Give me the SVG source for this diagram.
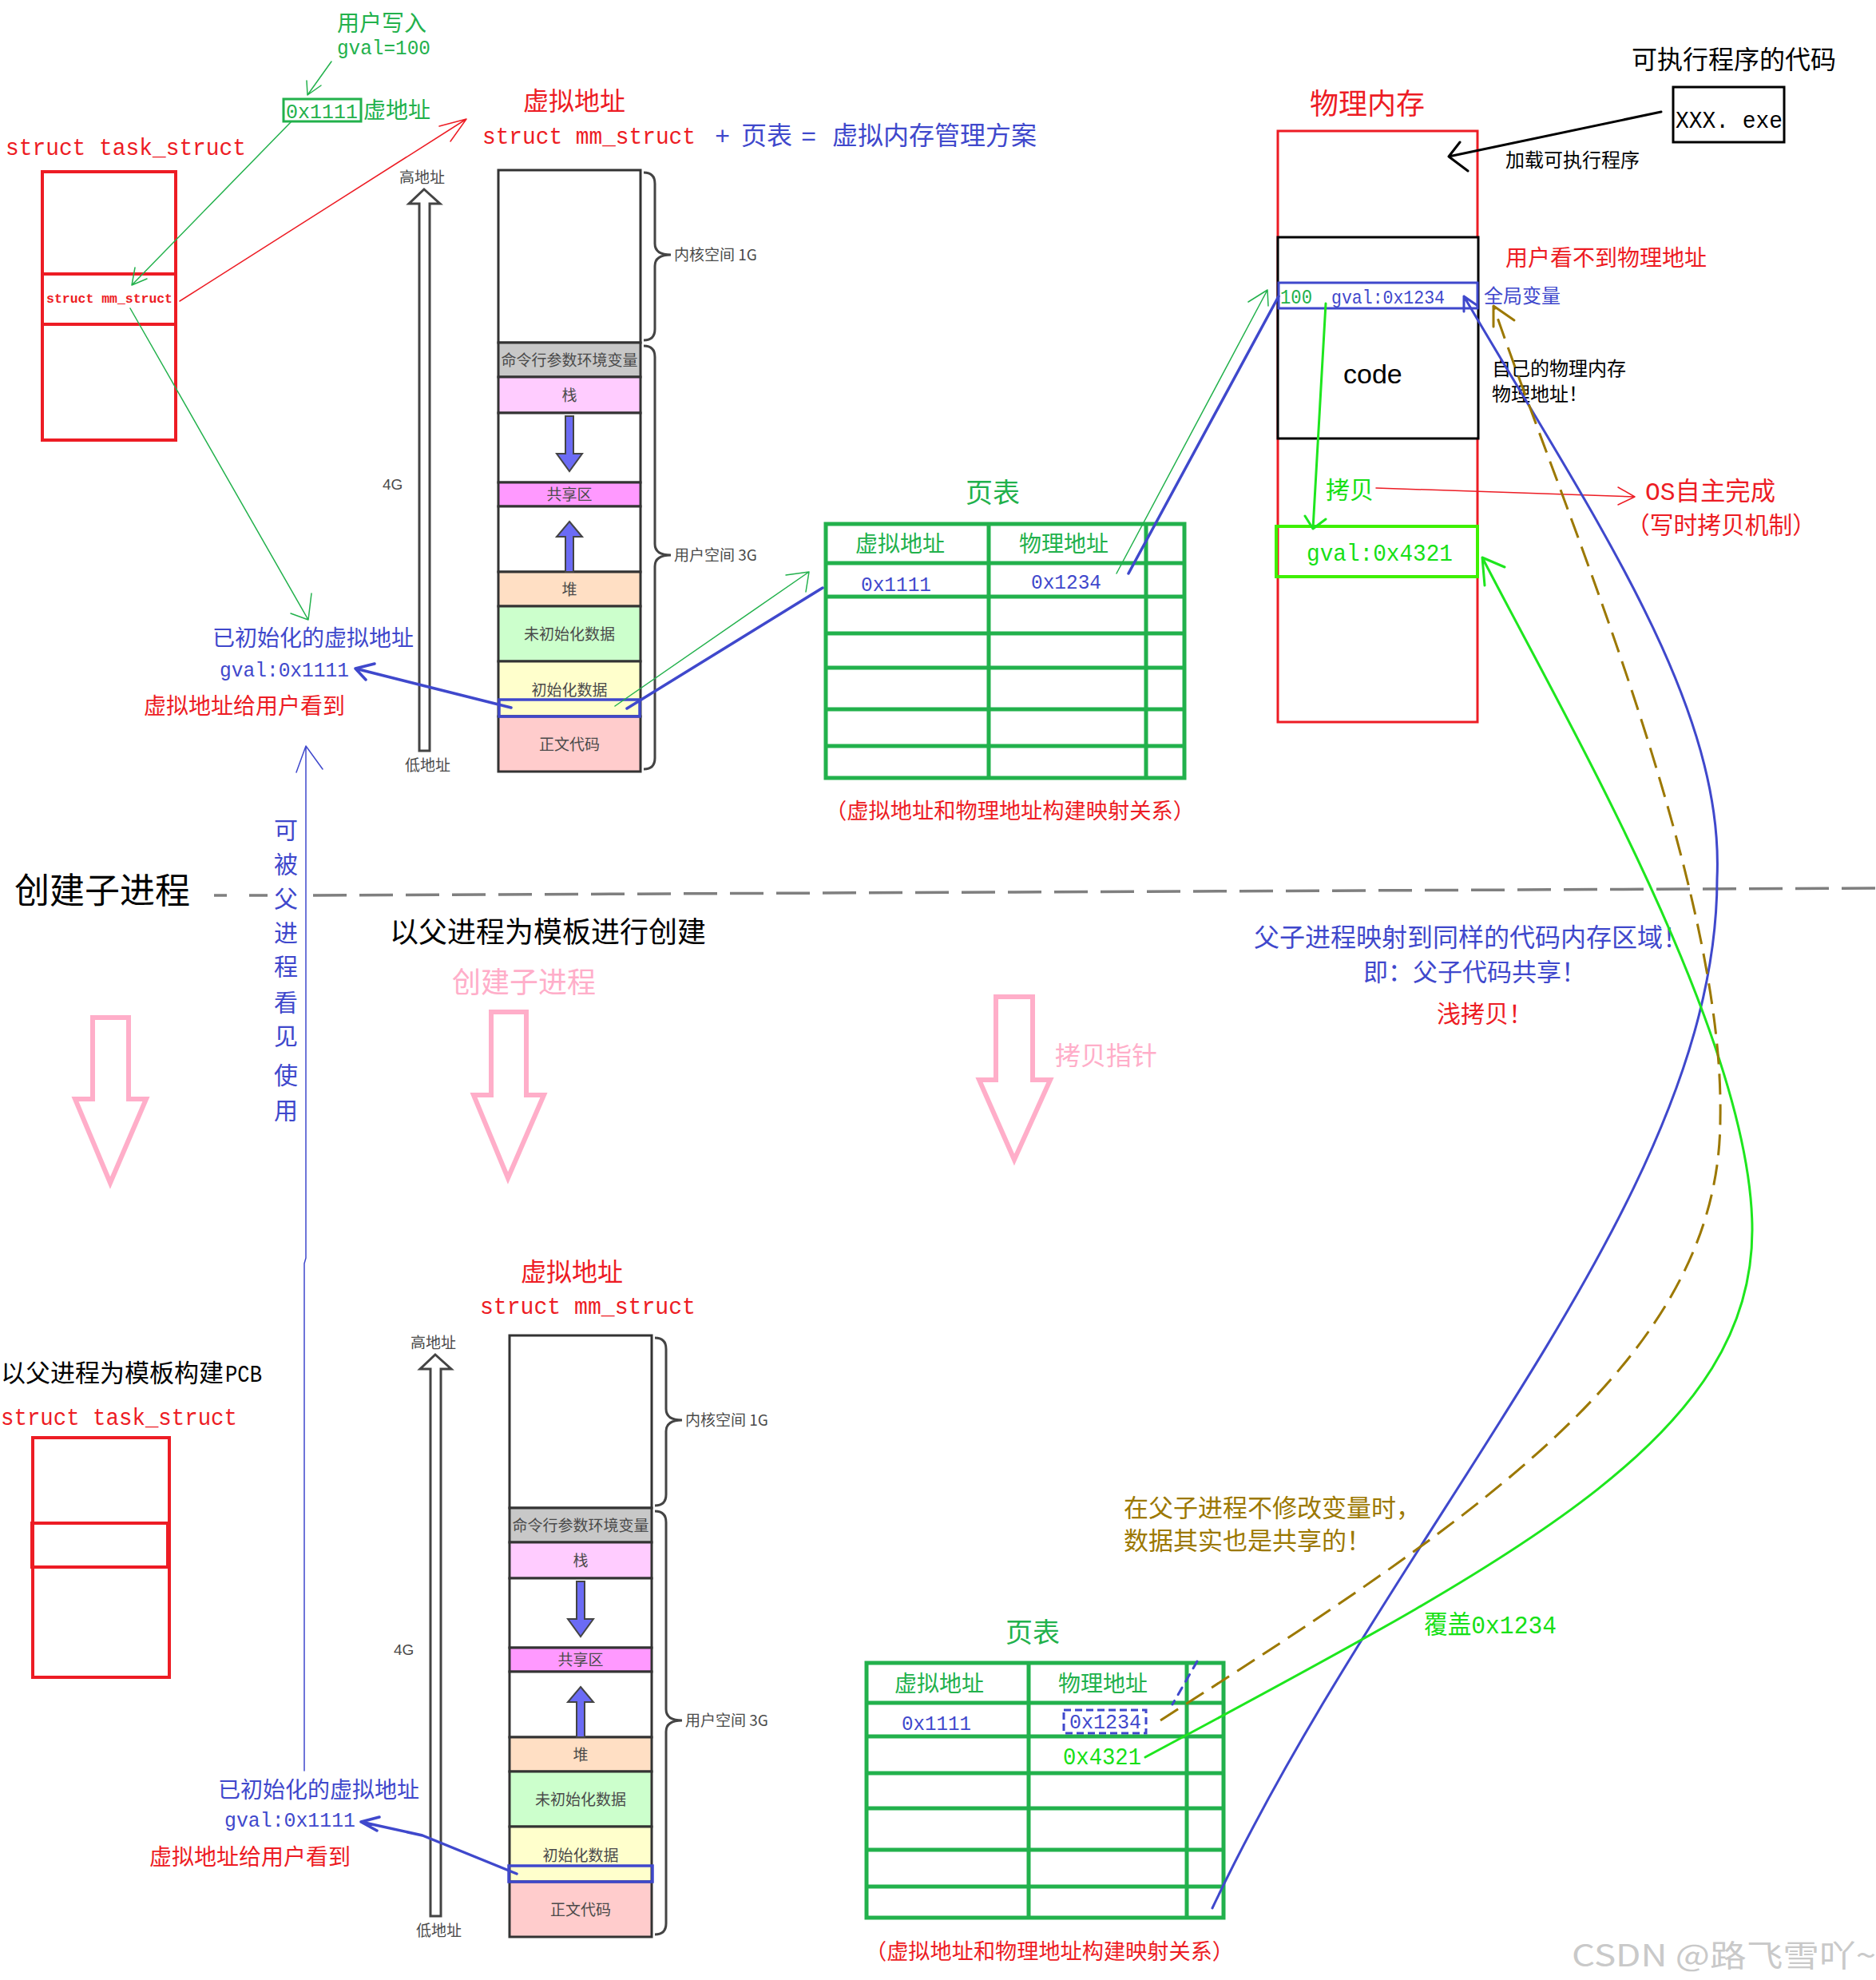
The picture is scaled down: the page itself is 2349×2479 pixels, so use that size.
<svg xmlns="http://www.w3.org/2000/svg" width="2349" height="2479" viewBox="0 0 2349 2479">
<style>
text { font-family: "Noto Sans CJK SC", sans-serif; }
.mono { font-family: "Liberation Mono", "Noto Sans CJK SC", monospace; }
.sans { font-family: "Liberation Sans", "Noto Sans CJK SC", sans-serif; }
.red { fill: #ed1c24; }
.grn { fill: #22b14c; }
.blu { fill: #3f48cc; }
.lime { fill: #16e016; }
.brn { fill: #9c7800; }
.pink { fill: #ffaec9; }
.blk { fill: #000; }
.vml { font-size: 19px; fill: #4a4a4a; }
.sec { stroke: #333; stroke-width: 3; }
.brace { fill: none; stroke: #444; stroke-width: 3; }
.tbl { fill: none; stroke: #22b14c; stroke-width: 5; }
.ln { fill: none; stroke-linecap: round; stroke-linejoin: round; }
.g1 { stroke: #22b14c; stroke-width: 1.5; }
.r1 { stroke: #ed1c24; stroke-width: 1.5; }
.b3 { stroke: #3f48cc; stroke-width: 3.5; }
.b1 { stroke: #3f48cc; stroke-width: 1.5; }
.lm3 { stroke: #1ee61e; stroke-width: 3; }
.br3 { stroke: #9c7800; stroke-width: 3; stroke-dasharray: 26 12; stroke-linecap: butt; }
.k3 { stroke: #000; stroke-width: 3; }
.pk { fill: none; stroke: #ffaec9; stroke-width: 6; stroke-linejoin: miter; }
.varrow { fill: #6b6bf5; stroke: #444; stroke-width: 2; }
</style>

<!-- parent task_struct -->
<g id="task-parent">
  <text x="7" y="194" class="mono red" font-size="30" textLength="301" lengthAdjust="spacingAndGlyphs">struct task_struct</text>
  <rect x="53" y="215" width="167" height="336" fill="none" stroke="#ed1c24" stroke-width="4"/>
  <line x1="53" y1="343" x2="220" y2="343" stroke="#ed1c24" stroke-width="4"/>
  <line x1="53" y1="406" x2="220" y2="406" stroke="#ed1c24" stroke-width="4"/>
  <text x="58" y="379" class="mono red" font-size="16" font-weight="bold" textLength="158" lengthAdjust="spacingAndGlyphs">struct mm_struct</text>
</g>

<!-- user write label -->
<g id="user-write">
  <text x="422" y="39" class="grn" font-size="28">用户写入</text>
  <text x="422" y="68" class="mono grn" font-size="26" textLength="117" lengthAdjust="spacingAndGlyphs">gval=100</text>
  <rect x="355" y="124" width="97" height="28" fill="none" stroke="#22b14c" stroke-width="3"/>
  <text x="358" y="148" class="mono grn" font-size="26" textLength="90" lengthAdjust="spacingAndGlyphs">0x1111</text>
  <text x="455" y="148" class="grn" font-size="28">虚地址</text>
</g>

<!-- titles -->
<g id="vm-title-parent">
  <text x="655" y="138" class="red" font-size="32">虚拟地址</text>
  <text x="604" y="180" class="mono red" font-size="29" textLength="267" lengthAdjust="spacingAndGlyphs">struct mm_struct</text>
  <text x="895" y="181" class="mono blu" font-size="32">+</text>
  <text x="928" y="181" class="blu" font-size="32">页表</text>
  <text x="1003" y="181" class="mono blu" font-size="32">=</text>
  <text x="1042" y="181" class="blu" font-size="32">虚拟内存管理方案</text>
</g>

<!-- parent virtual memory layout -->
<g id="vm-parent">
  <text x="500" y="229" class="vml">高地址</text>
  <polygon points="531,237 551,255 538,255 538,940 525,940 525,255 512,255" fill="#fff" stroke="#444" stroke-width="3"/>
  <text x="507" y="965" class="vml">低地址</text>
  <text x="479" y="613" class="vml sans" font-size="20">4G</text>
  <rect x="624" y="213" width="178" height="216" fill="#fff" class="sec"/>
  <rect x="624" y="429" width="178" height="43" fill="#c8c8c8" class="sec"/>
  <rect x="624" y="472" width="178" height="45" fill="#ffccff" class="sec"/>
  <rect x="624" y="517" width="178" height="87" fill="#fff" class="sec"/>
  <rect x="624" y="604" width="178" height="30" fill="#ff99ff" class="sec"/>
  <rect x="624" y="634" width="178" height="82" fill="#fff" class="sec"/>
  <rect x="624" y="716" width="178" height="43" fill="#ffdfc4" class="sec"/>
  <rect x="624" y="759" width="178" height="69" fill="#ccffcc" class="sec"/>
  <rect x="624" y="828" width="178" height="69" fill="#ffffcc" class="sec"/>
  <rect x="624" y="897" width="178" height="69" fill="#ffcccc" class="sec"/>
  <rect x="625" y="876" width="176" height="21" fill="none" stroke="#3f48cc" stroke-width="3.5"/>
  <text x="713" y="458" class="vml" text-anchor="middle">命令行参数环境变量</text>
  <text x="713" y="502" class="vml" text-anchor="middle">栈</text>
  <text x="713" y="626" class="vml" text-anchor="middle">共享区</text>
  <text x="713" y="745" class="vml" text-anchor="middle">堆</text>
  <text x="713" y="801" class="vml" text-anchor="middle">未初始化数据</text>
  <text x="713" y="871" class="vml" text-anchor="middle">初始化数据</text>
  <text x="713" y="939" class="vml" text-anchor="middle">正文代码</text>
  <polygon points="708,521 718,521 718,568 729,568 713,590 697,568 708,568" class="varrow"/>
  <polygon points="713,653 729,672 718,672 718,716 708,716 708,672 697,672" class="varrow"/>
  <path class="brace" d="M806,216 Q820,216 820,230 L820,305 Q820,319 840,319 Q820,319 820,333 L820,412 Q820,426 806,426"/>
  <path class="brace" d="M806,433 Q820,433 820,447 L820,681 Q820,695 840,695 Q820,695 820,709 L820,949 Q820,963 806,963"/>
  <text x="844" y="326" class="vml">内核空间 1G</text>
  <text x="844" y="702" class="vml">用户空间 3G</text>
</g>

<g id="vaddr-parent">
  <text x="266" y="809" class="blu" font-size="28">已初始化的虚拟地址</text>
  <text x="275" y="847" class="mono blu" font-size="26" textLength="162" lengthAdjust="spacingAndGlyphs">gval:0x1111</text>
  <text x="180" y="894" class="red" font-size="28">虚拟地址给用户看到</text>
</g>

<!-- page table parent -->
<g id="pagetable-parent">
  <text x="1209" y="629" class="grn" font-size="34">页表</text>
  <rect x="1034" y="656" width="449" height="318" class="tbl"/>
  <path class="tbl" d="M1238,656 V974 M1435,656 V974 M1034,705 H1483 M1034,747 H1483 M1034,793 H1483 M1034,836 H1483 M1034,888 H1483 M1034,934 H1483"/>
  <text x="1071" y="691" class="grn" font-size="28">虚拟地址</text>
  <text x="1276" y="691" class="grn" font-size="28">物理地址</text>
  <text x="1078" y="740" class="mono blu" font-size="26" textLength="88" lengthAdjust="spacingAndGlyphs">0x1111</text>
  <text x="1291" y="737" class="mono blu" font-size="26" textLength="88" lengthAdjust="spacingAndGlyphs">0x1234</text>
  <text x="1033" y="1025" class="red" font-size="27" textLength="463" lengthAdjust="spacingAndGlyphs">（虚拟地址和物理地址构建映射关系）</text>
</g>

<!-- physical memory -->
<g id="phys-mem">
  <text x="1640" y="143" class="red" font-size="36">物理内存</text>
  <rect x="1600" y="164" width="250" height="740" fill="none" stroke="#ed1c24" stroke-width="3"/>
  <rect x="1600" y="297" width="251" height="252" fill="#fff" stroke="#000" stroke-width="3"/>
  <rect x="1601" y="354" width="249" height="32" fill="none" stroke="#3f48cc" stroke-width="3"/>
  <text x="1603" y="380" class="mono grn" font-size="26" textLength="40" lengthAdjust="spacingAndGlyphs">100</text>
  <text x="1667" y="380" class="mono blu" font-size="24" textLength="142" lengthAdjust="spacingAndGlyphs">gval:0x1234</text>
  <text x="1682" y="480" class="sans blk" font-size="34">code</text>
  <rect x="1598" y="659" width="252" height="63" fill="none" stroke="#3ef000" stroke-width="4"/>
  <text x="1636" y="702" class="mono lime" font-size="30" textLength="183" lengthAdjust="spacingAndGlyphs">gval:0x4321</text>
</g>

<g id="exe">
  <text x="2043" y="86" class="blk" font-size="32">可执行程序的代码</text>
  <rect x="2095" y="109" width="139" height="69" fill="none" stroke="#000" stroke-width="3"/>
  <text x="2098" y="160" class="mono blk" font-size="30" textLength="134" lengthAdjust="spacingAndGlyphs">XXX. exe</text>
  <text x="1885" y="209" class="blk" font-size="24">加载可执行程序</text>
</g>

<g id="phys-notes">
  <text x="1885" y="333" class="red" font-size="28">用户看不到物理地址</text>
  <text x="1858" y="379" class="blu" font-size="24">全局变量</text>
  <text x="1868" y="470" class="blk" font-size="24">自己的物理内存</text>
  <text x="1868" y="502" class="blk" font-size="24">物理地址！</text>
  <text x="1660" y="624" class="lime" font-size="30">拷贝</text>
  <text x="2060" y="626" class="red" font-size="32" textLength="163" lengthAdjust="spacingAndGlyphs"><tspan class="mono">OS</tspan>自主完成</text>
  <text x="2036" y="668" class="red" font-size="30" textLength="238" lengthAdjust="spacingAndGlyphs">（写时拷贝机制）</text>
</g>

<!-- separator -->
<g id="separator">
  <text x="18" y="1131" class="blk" font-size="44">创建子进程</text>
  <path d="M268,1121 H284 M312,1121 H335" stroke="#7f7f7f" stroke-width="3.5" fill="none"/>
  <line x1="392" y1="1121" x2="2349" y2="1112" stroke="#7f7f7f" stroke-width="3.5" stroke-dasharray="42 16"/>
</g>

<g id="visible-note">
  <text x="343" y="1050" class="blu" font-size="30">可</text>
  <text x="343" y="1093" class="blu" font-size="30">被</text>
  <text x="343" y="1136" class="blu" font-size="30">父</text>
  <text x="343" y="1179" class="blu" font-size="30">进</text>
  <text x="343" y="1221" class="blu" font-size="30">程</text>
  <text x="343" y="1266" class="blu" font-size="30">看</text>
  <text x="343" y="1308" class="blu" font-size="30">见</text>
  <text x="343" y="1357" class="blu" font-size="30">使</text>
  <text x="343" y="1401" class="blu" font-size="30">用</text>
</g>

<g id="create-notes">
  <text x="488" y="1180" class="blk" font-size="36">以父进程为模板进行创建</text>
  <text x="566" y="1243" class="pink" font-size="36">创建子进程</text>
  <text x="1321" y="1333" class="pink" font-size="32">拷贝指针</text>
  <polygon class="pk" points="116,1274 161,1274 161,1376 183,1376 138,1481 94,1376 116,1376"/>
  <polygon class="pk" points="615,1267 659,1267 659,1371 681,1371 636,1475 593,1371 615,1371"/>
  <polygon class="pk" points="1247,1248 1293,1248 1293,1352 1315,1352 1270,1452 1226,1352 1247,1352"/>
</g>

<g id="share-notes">
  <text x="1570" y="1185" class="blu" font-size="32">父子进程映射到同样的代码内存区域！</text>
  <text x="1707" y="1228" class="blu" font-size="31">即：父子代码共享！</text>
  <text x="1799" y="1280" class="red" font-size="30">浅拷贝！</text>
  <text x="1407" y="1899" class="brn" font-size="31">在父子进程不修改变量时，</text>
  <text x="1407" y="1940" class="brn" font-size="31">数据其实也是共享的！</text>
  <text x="1783" y="2045" class="lime" font-size="32" textLength="166" lengthAdjust="spacingAndGlyphs">覆盖<tspan class="mono">0x1234</tspan></text>
</g>

<!-- child task_struct -->
<g id="task-child">
  <text x="1" y="1730" class="blk" font-size="31">以父进程为模板构建</text>
  <text x="282" y="1730" class="mono blk" font-size="30" textLength="46" lengthAdjust="spacingAndGlyphs">PCB</text>
  <text x="1" y="1784" class="mono red" font-size="30" textLength="296" lengthAdjust="spacingAndGlyphs">struct task_struct</text>
  <rect x="41" y="1800" width="171" height="300" fill="none" stroke="#ed1c24" stroke-width="4"/>
  <rect x="40" y="1907" width="170" height="55" fill="none" stroke="#ed1c24" stroke-width="4"/>
</g>

<g id="vm-title-child">
  <text x="652" y="1604" class="red" font-size="32">虚拟地址</text>
  <text x="601" y="1645" class="mono red" font-size="29" textLength="270" lengthAdjust="spacingAndGlyphs">struct mm_struct</text>
</g>

<!-- child virtual memory layout -->
<g id="vm-child" transform="translate(14,1459)">
  <text x="500" y="229" class="vml">高地址</text>
  <polygon points="531,237 551,255 538,255 538,940 525,940 525,255 512,255" fill="#fff" stroke="#444" stroke-width="3"/>
  <text x="507" y="965" class="vml">低地址</text>
  <text x="479" y="613" class="vml sans" font-size="20">4G</text>
  <rect x="624" y="213" width="178" height="216" fill="#fff" class="sec"/>
  <rect x="624" y="429" width="178" height="43" fill="#c8c8c8" class="sec"/>
  <rect x="624" y="472" width="178" height="45" fill="#ffccff" class="sec"/>
  <rect x="624" y="517" width="178" height="87" fill="#fff" class="sec"/>
  <rect x="624" y="604" width="178" height="30" fill="#ff99ff" class="sec"/>
  <rect x="624" y="634" width="178" height="82" fill="#fff" class="sec"/>
  <rect x="624" y="716" width="178" height="43" fill="#ffdfc4" class="sec"/>
  <rect x="624" y="759" width="178" height="69" fill="#ccffcc" class="sec"/>
  <rect x="624" y="828" width="178" height="69" fill="#ffffcc" class="sec"/>
  <rect x="624" y="897" width="178" height="69" fill="#ffcccc" class="sec"/>
  <rect x="623" y="877" width="180" height="20" fill="none" stroke="#3f48cc" stroke-width="3.5"/>
  <text x="713" y="458" class="vml" text-anchor="middle">命令行参数环境变量</text>
  <text x="713" y="502" class="vml" text-anchor="middle">栈</text>
  <text x="713" y="626" class="vml" text-anchor="middle">共享区</text>
  <text x="713" y="745" class="vml" text-anchor="middle">堆</text>
  <text x="713" y="801" class="vml" text-anchor="middle">未初始化数据</text>
  <text x="713" y="871" class="vml" text-anchor="middle">初始化数据</text>
  <text x="713" y="939" class="vml" text-anchor="middle">正文代码</text>
  <polygon points="708,521 718,521 718,568 729,568 713,590 697,568 708,568" class="varrow"/>
  <polygon points="713,653 729,672 718,672 718,716 708,716 708,672 697,672" class="varrow"/>
  <path class="brace" d="M806,216 Q820,216 820,230 L820,305 Q820,319 840,319 Q820,319 820,333 L820,412 Q820,426 806,426"/>
  <path class="brace" d="M806,433 Q820,433 820,447 L820,681 Q820,695 840,695 Q820,695 820,709 L820,949 Q820,963 806,963"/>
  <text x="844" y="326" class="vml">内核空间 1G</text>
  <text x="844" y="702" class="vml">用户空间 3G</text>
</g>

<g id="vaddr-child">
  <text x="273" y="2251" class="blu" font-size="28">已初始化的虚拟地址</text>
  <text x="281" y="2287" class="mono blu" font-size="26" textLength="164" lengthAdjust="spacingAndGlyphs">gval:0x1111</text>
  <text x="187" y="2335" class="red" font-size="28">虚拟地址给用户看到</text>
</g>

<!-- page table child -->
<g id="pagetable-child">
  <text x="1259" y="2056" class="grn" font-size="34">页表</text>
  <rect x="1085" y="2082" width="447" height="319" class="tbl"/>
  <path class="tbl" d="M1288,2082 V2401 M1486,2082 V2401 M1085,2132 H1532 M1085,2174 H1532 M1085,2220 H1532 M1085,2264 H1532 M1085,2316 H1532 M1085,2362 H1532"/>
  <text x="1120" y="2118" class="grn" font-size="28">虚拟地址</text>
  <text x="1325" y="2118" class="grn" font-size="28">物理地址</text>
  <text x="1129" y="2166" class="mono blu" font-size="26" textLength="87" lengthAdjust="spacingAndGlyphs">0x1111</text>
  <rect x="1332" y="2141" width="103" height="29" fill="none" stroke="#3f48cc" stroke-width="3" stroke-dasharray="9 5"/>
  <text x="1339" y="2164" class="mono blu" font-size="26" textLength="90" lengthAdjust="spacingAndGlyphs">0x1234</text>
  <text x="1331" y="2209" class="mono lime" font-size="30" textLength="98" lengthAdjust="spacingAndGlyphs">0x4321</text>
  <text x="1083" y="2453" class="red" font-size="27" textLength="462" lengthAdjust="spacingAndGlyphs">（虚拟地址和物理地址构建映射关系）</text>
</g>

<!-- connectors -->
<g id="connectors" class="ln">
  <path class="ln g1" d="M415,77 L385,119 M384,101 L385,119 L402,107"/>
  <path class="ln g1" d="M364,153 L165,357 M169,335 L165,357 L184,349"/>
  <path class="ln g1" d="M163,386 L386,776 M390,743 L386,776 L364,768"/>
  <path class="ln g1" d="M770,884 L1013,716 M984,720 L1013,716 L1009,741"/>
  <path class="ln g1" d="M1398,718 L1587,363 M1563,378 L1587,363 L1588,383"/>
  <path class="ln r1" d="M225,377 L584,149 M550,158 L584,149 L564,177"/>
  <path class="ln r1" d="M1723,611 L2047,622 M2026,610 L2047,622 L2026,632"/>
  <path class="ln b3" d="M640,886 L445,837 M469,831 L445,837 L458,851"/>
  <path class="ln b3" d="M785,887 L1030,736"/>
  <path class="ln b3" d="M1413,718 L1601,371"/>
  <path class="ln b3" d="M647,2346 L529,2298 L452,2281 M475,2275 L452,2281 L472,2292"/>
  <path class="ln b1" d="M371,967 L383,934 L404,963 M383,934 L383,1575 L381,1582 L381,2217"/>
  <path class="ln k3" d="M2080,140 L1814,196 M1828,178 L1814,196 L1838,214"/>
  <path class="ln lm3" d="M1660,380 L1644,662 M1634,646 L1644,662 L1660,650"/>
  <path class="ln b3" style="stroke-width:3" d="M1518,2389 C1750,1900 2150,1500 2150,1100 C2160,880 1990,640 1833,371 M1833,390 L1833,371 L1849,382"/>
  <path class="ln lm3" d="M1434,2200 C1900,1950 2194,1800 2194,1540 C2194,1300 1960,900 1856,698 M1884,710 L1856,698 L1859,733"/>
  <path class="ln br3" d="M1453,2154 C1850,1900 2154,1700 2154,1400 C2160,1100 1950,620 1870,383"/>
  <path class="ln" style="stroke:#9c7800;stroke-width:3" d="M1870,409 L1870,383 L1896,401"/>
  <path class="ln b3" style="stroke-width:3;stroke-dasharray:10 9" d="M1499,2080 L1468,2134"/>
</g>

<text x="1968" y="2462" font-size="38" fill="#c9c9c9" textLength="381" lengthAdjust="spacingAndGlyphs">CSDN @路飞雪吖~</text>
</svg>
